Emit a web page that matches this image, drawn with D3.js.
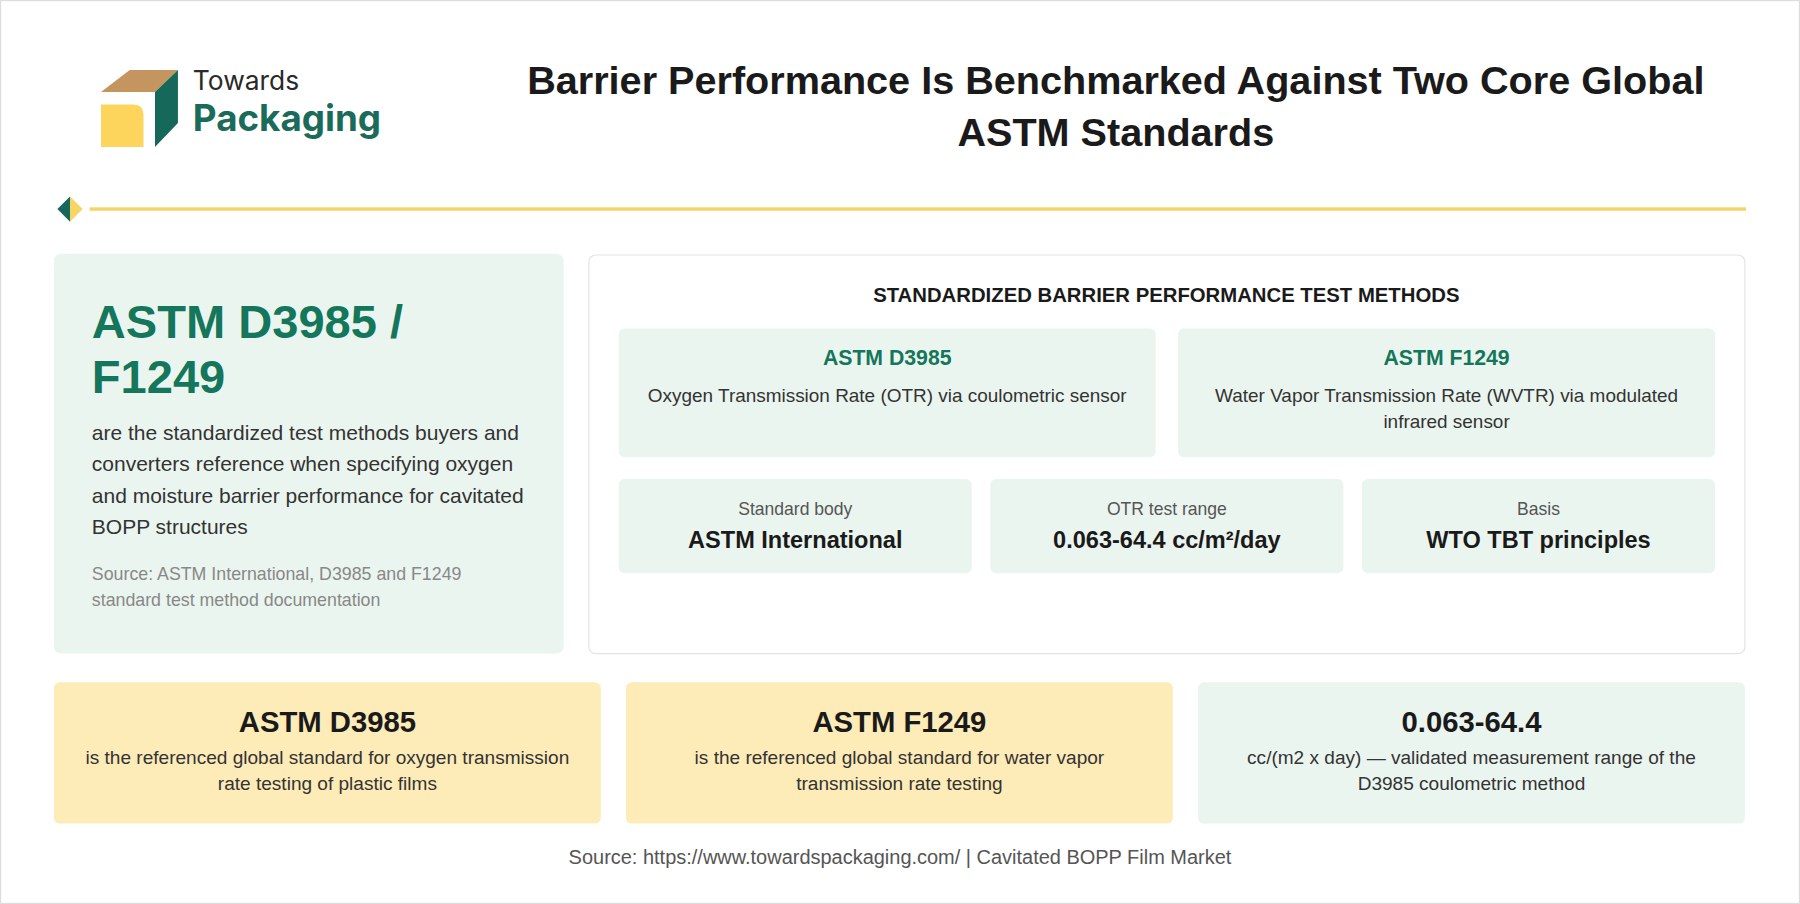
<!DOCTYPE html>
<html><head><meta charset="utf-8">
<script src="https://cdn.jsdelivr.net/npm/d3@7"></script>
<style>body{margin:0;background:#fff}svg{display:block}</style></head>
<body><svg id="c" width="1800" height="904" viewBox="0 0 1568 787" preserveAspectRatio="none"></svg>
<script>
const titleLines = ["Barrier Performance Is Benchmarked Against Two Core Global", "ASTM Standards"];
const leftHead = ["ASTM D3985 /", "F1249"];
const leftBody = ["are the standardized test methods buyers and", "converters reference when specifying oxygen", "and moisture barrier performance for cavitated", "BOPP structures"];
const leftSource = ["Source: ASTM International, D3985 and F1249", "standard test method documentation"];
const methodNames = ["ASTM D3985", "ASTM F1249"];
const methodDesc = [["Oxygen Transmission Rate (OTR) via coulometric sensor"], ["Water Vapor Transmission Rate (WVTR) via modulated", "infrared sensor"]];
const factLabels = ["Standard body", "OTR test range", "Basis"];
const factValues = ["ASTM International", "0.063-64.4 cc/m²/day", "WTO TBT principles"];
const kpiTitles = ["ASTM D3985", "ASTM F1249", "0.063-64.4"];
const kpiText = [["is the referenced global standard for oxygen transmission", "rate testing of plastic films"], ["is the referenced global standard for water vapor", "transmission rate testing"], ["cc/(m2 x day) — validated measurement range of the", "D3985 coulometric method"]];
const footer = "Source: https://www.towardspackaging.com/ | Cavitated BOPP Film Market";

const F = "Inter, 'Open Sans', Arial, sans-serif";
const L = "'Liberation Sans', Arial, sans-serif";
const svg = d3.select("#c");
const G = "#14765a", LG = "#ebf5ef", Y = "#fdebb8";
svg.append("rect").attr("x",0.5).attr("y",0.5).attr("width",1567).attr("height",786).attr("fill","#fff").attr("stroke","#ddd");
// logo
svg.append("path").attr("d","M88,80 L113,61 L155,61 L135,80 Z").attr("fill","#c4955e");
svg.append("path").attr("d","M88,91 L116,91 Q125,91 125,100 L125,128 L88,128 Z").attr("fill","#fdd55c");
svg.append("path").attr("d","M135,80 L155,61 L155,107 L135,128 Z").attr("fill","#16685a");
svg.append("text").attr("x",168).attr("y",78).text("Towards").attr("font-family",F).attr("font-size",23).attr("fill","#2a2a2a");
svg.append("text").attr("x",168).attr("y",114).text("Packaging").attr("font-family",F).attr("font-size",32).attr("font-weight",700).attr("fill","#1a6b5a");
// title
svg.selectAll(".t").data(titleLines).join("text").attr("x",972).attr("y",(d,i)=>82+i*45).attr("text-anchor","middle")
  .attr("font-family",L).attr("font-weight",700).attr("font-size",34.5).attr("fill","#1a1a1a").text(d=>d);
// divider
svg.append("path").attr("d","M61,171 L50,182 L61,193 Z").attr("fill","#16685a");
svg.append("path").attr("d","M61,171 L72,182 L61,193 Z").attr("fill","#f5d565");
svg.append("rect").attr("x",78).attr("y",180.5).attr("width",1443).attr("height",3).attr("fill","#f5d565");
// left card
svg.append("rect").attr("x",47).attr("y",221).attr("width",444).attr("height",348).attr("rx",6).attr("fill",LG);
svg.selectAll(".lh").data(leftHead).join("text").attr("x",80).attr("y",(d,i)=>294+i*48).attr("font-family",L).attr("font-weight",700).attr("font-size",41).attr("fill",G).text(d=>d);
svg.selectAll(".lb").data(leftBody).join("text").attr("x",80).attr("y",(d,i)=>383+i*27.3).attr("font-family",L).attr("font-size",18.3).attr("fill","#333").text(d=>d);
svg.selectAll(".ls").data(leftSource).join("text").attr("x",80).attr("y",(d,i)=>505+i*23).attr("font-family",L).attr("font-size",15.5).attr("fill","#888").text(d=>d);
// right card
svg.append("rect").attr("x",513).attr("y",222).attr("width",1007).attr("height",347).attr("rx",6).attr("fill","#fff").attr("stroke","#e3e3e3");
svg.append("text").attr("x",1016).attr("y",263).attr("text-anchor","middle").attr("font-family",L).attr("font-weight",700).attr("font-size",17.7).attr("fill","#1a1a1a").text("STANDARDIZED BARRIER PERFORMANCE TEST METHODS");
const mx = d3.scaleBand().domain(d3.range(2)).range([539,1494]).paddingInner(0.04);
methodNames.forEach((n,i)=>{
  const x=mx(i), w=mx.bandwidth(), c=x+w/2;
  svg.append("rect").attr("x",x).attr("y",286).attr("width",w).attr("height",112).attr("rx",5).attr("fill",LG);
  svg.append("text").attr("x",c).attr("y",318).attr("text-anchor","middle").attr("font-family",L).attr("font-weight",700).attr("font-size",18.5).attr("fill",G).text(n);
  methodDesc[i].forEach((t,j)=>svg.append("text").attr("x",c).attr("y",350+j*23).attr("text-anchor","middle").attr("font-family",L).attr("font-size",16.5).attr("fill","#333").text(t));
});
const fx = d3.scaleBand().domain(d3.range(3)).range([539,1494]).paddingInner(0.05);
factLabels.forEach((n,i)=>{
  const x=fx(i), w=fx.bandwidth(), c=x+w/2;
  svg.append("rect").attr("x",x).attr("y",417).attr("width",w).attr("height",82).attr("rx",5).attr("fill",LG);
  svg.append("text").attr("x",c).attr("y",448).attr("text-anchor","middle").attr("font-family",L).attr("font-size",15.3).attr("fill","#555").text(n);
  svg.append("text").attr("x",c).attr("y",477).attr("text-anchor","middle").attr("font-family",L).attr("font-weight",700).attr("font-size",20.5).attr("fill","#1a1a1a").text(factValues[i]);
});
// KPI cards
const kx = d3.scaleBand().domain(d3.range(3)).range([47,1520]).paddingInner(0.044);
const kfill=[Y,Y,LG];
kpiTitles.forEach((n,i)=>{
  const x=kx(i), w=kx.bandwidth(), c=x+w/2;
  svg.append("rect").attr("x",x).attr("y",594).attr("width",w).attr("height",123).attr("rx",5).attr("fill",kfill[i]);
  svg.append("text").attr("x",c).attr("y",637).attr("text-anchor","middle").attr("font-family",L).attr("font-weight",700).attr("font-size",25.5).attr("fill","#1a1a1a").text(n);
  kpiText[i].forEach((t,j)=>svg.append("text").attr("x",c).attr("y",665+j*23).attr("text-anchor","middle").attr("font-family",L).attr("font-size",16.6).attr("fill","#333").text(t));
});
svg.append("text").attr("x",784).attr("y",752).attr("text-anchor","middle").attr("font-family",L).attr("font-size",17.4).attr("fill","#555").text(footer);
</script></body></html>
